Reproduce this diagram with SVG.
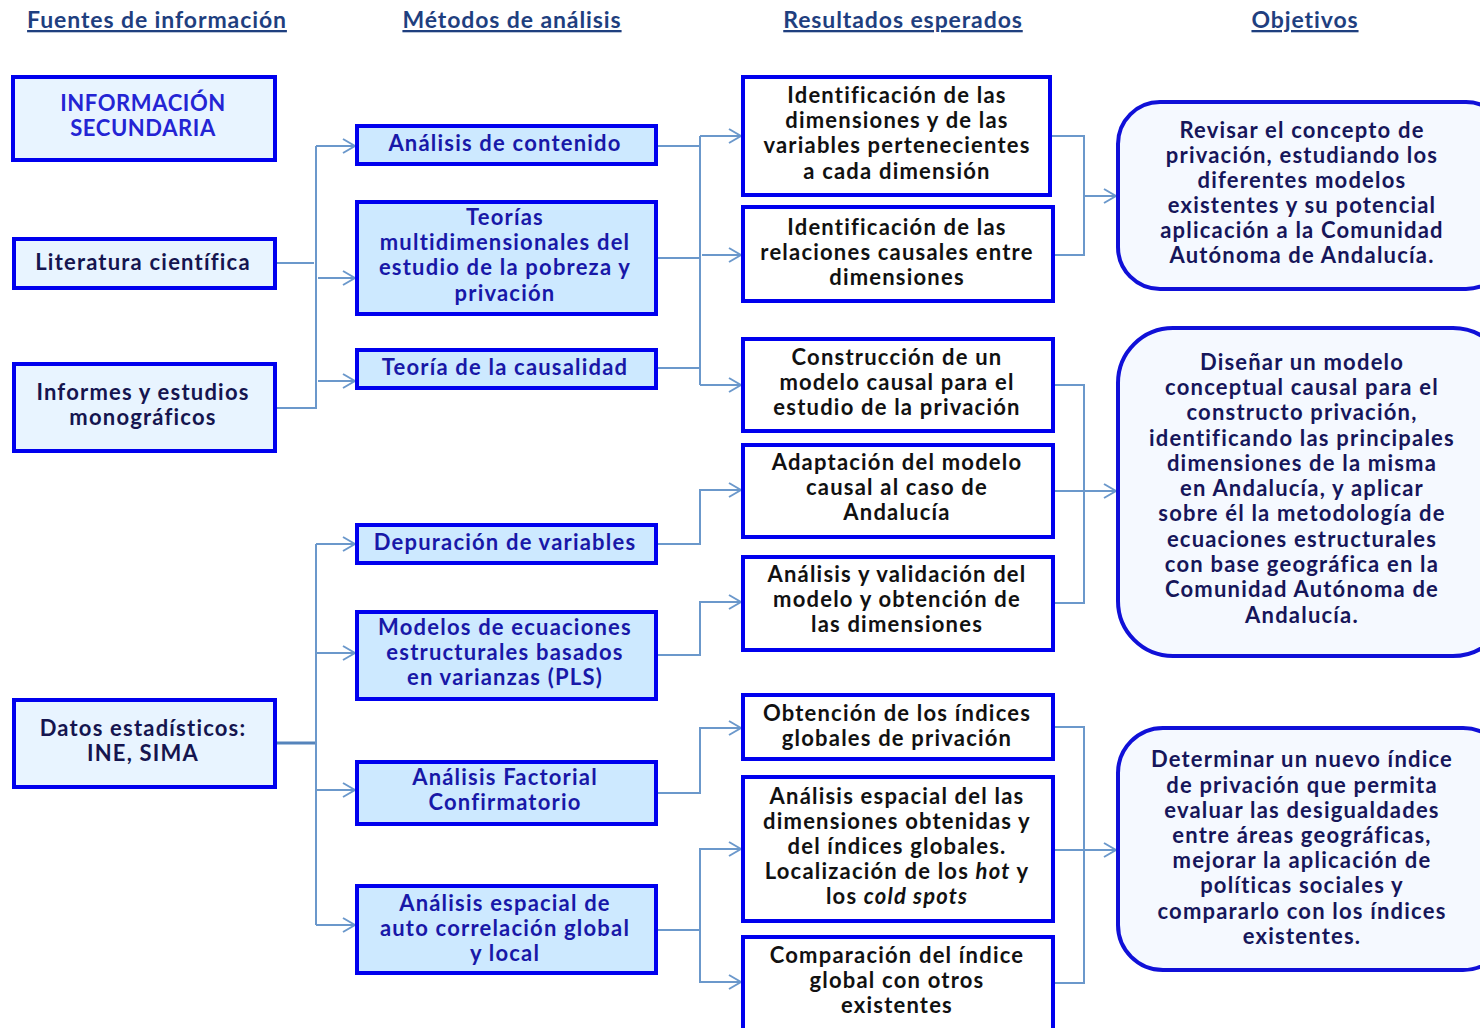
<svg xmlns="http://www.w3.org/2000/svg" width="1480" height="1028" viewBox="0 0 1480 1028">
<defs>
<marker id="arr" viewBox="0 0 14 16" refX="13" refY="8" markerWidth="14" markerHeight="16" markerUnits="userSpaceOnUse" orient="auto">
<path d="M1,1 L13,8 L1,15" fill="none" stroke="#6b98cb" stroke-width="2"/>
</marker>
<style>
text{font-family:Lato,"Open Sans","Liberation Sans",sans-serif;font-weight:bold;font-size:22px;text-anchor:middle;letter-spacing:1.2px}
.hd{fill:#1f3f7f;font-size:23px;text-decoration:underline;letter-spacing:0.9px}
.src rect{fill:#e8f4ff;stroke:#0000ee;stroke-width:4}
.src text{fill:#15154f}
.blue text{fill:#2424d4;letter-spacing:0.6px}
.met rect{fill:#cde9ff;stroke:#0000ee;stroke-width:4}
.met text{fill:#1818a8}
.res rect{fill:#ffffff;stroke:#0000ee;stroke-width:4}
.res text{fill:#111111}
.obj rect{fill:#f5f9ff;stroke:#1010d8;stroke-width:4}
.obj text{fill:#16165a}
#connectors path{fill:none;stroke:#6b98cb;stroke-width:2}
#connectors path.a{marker-end:url(#arr)}
</style>
</defs>
<rect width="1480" height="1028" fill="#ffffff"/>

<g id="headers">
<text class="hd" x="157" y="28">Fuentes de información</text>
<text class="hd" x="512" y="28">Métodos de análisis</text>
<text class="hd" x="903" y="28">Resultados esperados</text>
<text class="hd" x="1305" y="28">Objetivos</text>
</g>

<g id="connectors">
<!-- left group 1 -->
<path d="M276,263 H314"/>
<path d="M276,408 H316 V146"/>
<path class="a" d="M316,146 H355"/>
<path class="a" d="M318,278 H355"/>
<path class="a" d="M318,381 H355"/>
<!-- middle group 1 -->
<path d="M657,146 H700"/>
<path d="M657,258 H700"/>
<path d="M657,368 H700"/>
<path class="a" d="M700,136 H741"/>
<path d="M700,136 V385"/>
<path class="a" d="M702,255 H741"/>
<path class="a" d="M700,385 H741"/>
<!-- right group 1 -->
<path d="M1052,136 H1084 V255 H1054"/>
<path class="a" d="M1084,196 H1116"/>
<!-- left group 2 -->
<path d="M276,743 H316" style="stroke-width:3;stroke:#5584bb"/>
<path d="M316,544 V925"/>
<path class="a" d="M316,544 H355"/>
<path class="a" d="M316,653 H355"/>
<path class="a" d="M316,790 H355"/>
<path class="a" d="M316,925 H355"/>
<!-- middle group 2 -->
<path class="a" d="M657,544 H700 V490 H741"/>
<path class="a" d="M657,655 H700 V602 H741"/>
<path class="a" d="M657,793 H700 V728 H741"/>
<path d="M657,930 H700"/>
<path class="a" d="M700,930 V849 H741"/>
<path class="a" d="M700,930 V982 H741"/>
<!-- right group 2 -->
<path d="M1054,385 H1084 V603 H1054"/>
<path class="a" d="M1054,491 H1116"/>
<!-- right group 3 -->
<path d="M1054,727 H1084 V983 H1054"/>
<path class="a" d="M1054,850 H1116"/>
</g>

<g id="src-info" class="src blue">
<rect x="13" y="77" width="262" height="83"/>
<text x="143" y="111">INFORMACIÓN</text>
<text x="143" y="136">SECUNDARIA</text>
</g>
<g id="src-literatura" class="src">
<rect x="14" y="239" width="261" height="49"/>
<text x="143" y="270">Literatura científica</text>
</g>
<g id="src-informes" class="src">
<rect x="14" y="364" width="261" height="87"/>
<text x="143" y="400">Informes  y estudios</text>
<text x="143" y="425">monográficos</text>
</g>
<g id="src-datos" class="src">
<rect x="14" y="700" width="261" height="87"/>
<text x="143" y="736">Datos estadísticos:</text>
<text x="143" y="761">INE, SIMA</text>
</g>

<g id="met-contenido" class="met">
<rect x="357" y="126" width="299" height="38"/>
<text x="505" y="151">Análisis de contenido</text>
</g>
<g id="met-teorias" class="met">
<rect x="357" y="202" width="299" height="112"/>
<text x="505" y="225">Teorías</text>
<text x="505" y="250">multidimensionales del</text>
<text x="505" y="275">estudio de la pobreza y</text>
<text x="505" y="301">privación</text>
</g>
<g id="met-causalidad" class="met">
<rect x="357" y="350" width="299" height="38"/>
<text x="505" y="375">Teoría de la causalidad</text>
</g>
<g id="met-depuracion" class="met">
<rect x="357" y="525" width="299" height="38"/>
<text x="505" y="550">Depuración de variables</text>
</g>
<g id="met-modelos" class="met">
<rect x="357" y="612" width="299" height="87"/>
<text x="505" y="635">Modelos de ecuaciones</text>
<text x="505" y="660">estructurales basados</text>
<text x="505" y="685">en varianzas (PLS)</text>
</g>
<g id="met-factorial" class="met">
<rect x="357" y="762" width="299" height="62"/>
<text x="505" y="785">Análisis Factorial</text>
<text x="505" y="810">Confirmatorio</text>
</g>
<g id="met-espacial" class="met">
<rect x="357" y="886" width="299" height="87"/>
<text x="505" y="911">Análisis espacial de</text>
<text x="505" y="936">auto correlación global</text>
<text x="505" y="961">y local</text>
</g>

<g id="res-1" class="res">
<rect x="743" y="77" width="307" height="118"/>
<text x="897" y="103">Identificación  de las</text>
<text x="897" y="128">dimensiones y de las</text>
<text x="897" y="153">variables pertenecientes</text>
<text x="897" y="179">a cada dimensión</text>
</g>
<g id="res-2" class="res">
<rect x="743" y="207" width="310" height="94"/>
<text x="897" y="235">Identificación de las</text>
<text x="897" y="260">relaciones causales entre</text>
<text x="897" y="285">dimensiones</text>
</g>
<g id="res-3" class="res">
<rect x="743" y="339" width="310" height="92"/>
<text x="897" y="365">Construcción de un</text>
<text x="897" y="390">modelo causal para el</text>
<text x="897" y="415">estudio de la privación</text>
</g>
<g id="res-4" class="res">
<rect x="743" y="445" width="310" height="92"/>
<text x="897" y="470">Adaptación del modelo</text>
<text x="897" y="495">causal al caso de</text>
<text x="897" y="520">Andalucía</text>
</g>
<g id="res-5" class="res">
<rect x="743" y="557" width="310" height="93"/>
<text x="897" y="582">Análisis y validación del</text>
<text x="897" y="607">modelo y obtención de</text>
<text x="897" y="632">las dimensiones</text>
</g>
<g id="res-6" class="res">
<rect x="743" y="695" width="310" height="64"/>
<text x="897" y="721">Obtención de los índices</text>
<text x="897" y="746">globales de privación</text>
</g>
<g id="res-7" class="res">
<rect x="743" y="777" width="310" height="144"/>
<text x="897" y="804">Análisis espacial del las</text>
<text x="897" y="829">dimensiones obtenidas y</text>
<text x="897" y="854">del índices globales.</text>
<text x="897" y="879">Localización de los <tspan font-style="italic">hot</tspan> y</text>
<text x="897" y="904">los <tspan font-style="italic">cold spots</tspan></text>
</g>
<g id="res-8" class="res">
<rect x="743" y="937" width="310" height="96"/>
<text x="897" y="963">Comparación del índice</text>
<text x="897" y="988">global con otros</text>
<text x="897" y="1013">existentes</text>
</g>

<g id="obj-1" class="obj">
<rect x="1118" y="102" width="390" height="187" rx="42" ry="42"/>
<text x="1302" y="138">Revisar el concepto de</text>
<text x="1302" y="163">privación, estudiando los</text>
<text x="1302" y="188">diferentes modelos</text>
<text x="1302" y="213">existentes y su potencial</text>
<text x="1302" y="238">aplicación a la Comunidad</text>
<text x="1302" y="263">Autónoma de Andalucía.</text>
</g>
<g id="obj-2" class="obj">
<rect x="1118" y="328" width="390" height="328" rx="55" ry="55"/>
<text x="1302" y="370">Diseñar un modelo</text>
<text x="1302" y="395">conceptual causal para el</text>
<text x="1302" y="420">constructo privación,</text>
<text x="1302" y="446">identificando las principales</text>
<text x="1302" y="471">dimensiones de la misma</text>
<text x="1302" y="496">en Andalucía, y aplicar</text>
<text x="1302" y="521">sobre él la metodología de</text>
<text x="1302" y="547">ecuaciones estructurales</text>
<text x="1302" y="572">con base geográfica en la</text>
<text x="1302" y="597">Comunidad Autónoma de</text>
<text x="1302" y="623">Andalucía.</text>
</g>
<g id="obj-3" class="obj">
<rect x="1118" y="728" width="390" height="242" rx="45" ry="45"/>
<text x="1302" y="767">Determinar un nuevo índice</text>
<text x="1302" y="793">de privación que permita</text>
<text x="1302" y="818">evaluar las desigualdades</text>
<text x="1302" y="843">entre áreas geográficas,</text>
<text x="1302" y="868">mejorar la aplicación de</text>
<text x="1302" y="893">políticas sociales y</text>
<text x="1302" y="919">compararlo con los índices</text>
<text x="1302" y="944">existentes.</text>
</g>
</svg>
